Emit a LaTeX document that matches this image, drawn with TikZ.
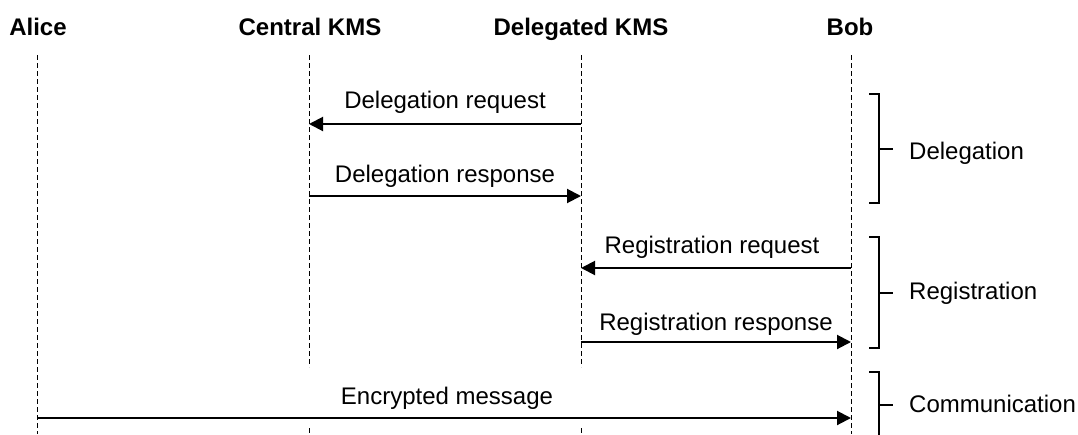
\documentclass[tikz,border=0pt]{standalone}
\usepackage{fontspec}
\setmainfont{Liberation Sans}
\usetikzlibrary{arrows.meta}
\begin{document}
\begin{tikzpicture}[x=1pt,y=-1pt,
  title/.style={font=\fontsize{24}{28}\selectfont\bfseries, inner sep=0pt, anchor=base},
  msglabel/.style={font=\fontsize{24}{28}\selectfont, inner sep=0pt, anchor=base},
  phase/.style={font=\fontsize{24}{28}\selectfont, inner sep=0pt, anchor=base west},
  lifeline/.style={draw=black, line width=1pt, dash pattern=on 5pt off 3pt},
  msg/.style={draw=black, line width=2pt, -{Triangle[length=14pt,width=14pt]}},
  bracket/.style={draw=black, line width=1.2pt},
]
\useasboundingbox (0,0) rectangle (1078,434);

% participants
\node[title] (alice) at (38,35) {Alice};
\node[title] (ckms) at (310,35) {Central KMS};
\node[title] (dkms) at (581,35) {Delegated KMS};
\node[title] (bob) at (850,35) {Bob};

% lifeline coordinates
\coordinate (aT) at (37,55);   \coordinate (aB) at (37,434);
\coordinate (cT) at (309,55);  \coordinate (cM) at (309,367);
\coordinate (cR) at (309,428); \coordinate (cB) at (309,434);
\coordinate (dT) at (581,55);  \coordinate (dM) at (581,367);
\coordinate (dR) at (581,428); \coordinate (dB) at (581,434);
\coordinate (bT) at (851,55);  \coordinate (bB) at (851,434);

\draw[lifeline] (aT) -- (aB);
\draw[lifeline] (cT) -- (cM);
\draw[lifeline] (cR) -- (cB);
\draw[lifeline] (dT) -- (dM);
\draw[lifeline] (dR) -- (dB);
\draw[lifeline] (bT) -- (bB);

% message end points
\coordinate (m1s) at (581,124); \coordinate (m1e) at (309,124);
\coordinate (m2s) at (309,196); \coordinate (m2e) at (581,196);
\coordinate (m3s) at (851,268); \coordinate (m3e) at (581,268);
\coordinate (m4s) at (581,342); \coordinate (m4e) at (851,342);
\coordinate (m5s) at (37,418);  \coordinate (m5e) at (851,418);

\draw[msg] (m1s) -- (m1e);
\draw[msg] (m2s) -- (m2e);
\draw[msg] (m3s) -- (m3e);
\draw[msg] (m4s) -- (m4e);
\draw[msg] (m5s) -- (m5e);

\node[msglabel] (l1) at (445,108) {Delegation request};
\node[msglabel] (l2) at (445,182) {Delegation response};
\node[msglabel] (l3) at (712,253) {Registration request};
\node[msglabel] (l4) at (716,330) {Registration response};
\node[msglabel] (l5) at (447,404) {Encrypted message};

% phase brackets
\draw[bracket] (869,94) -- (879,94) -- (879,203) -- (869,203);
\draw[bracket] (879,149) -- (893,149);
\node[phase] (p1) at (909,159) {Delegation};

\draw[bracket] (869,237) -- (879,237) -- (879,348) -- (869,348);
\draw[bracket] (879,293) -- (893,293);
\node[phase] (p2) at (909,299) {Registration};

\draw[bracket] (869,372) -- (879,372) -- (879,440);
\draw[bracket] (879,405) -- (893,405);
\node[phase] (p3) at (909,412) {Communication};
\end{tikzpicture}
\end{document}
